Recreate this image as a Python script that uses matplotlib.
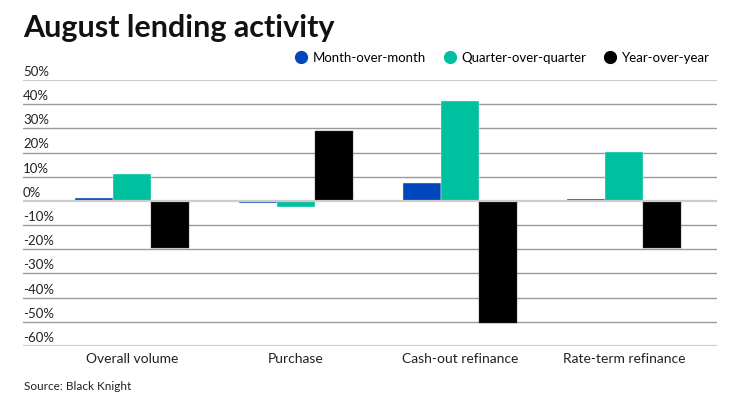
import matplotlib
matplotlib.use("Agg")
import matplotlib.pyplot as plt
import matplotlib.transforms as mtransforms
from matplotlib.lines import Line2D
import numpy as np

categories = ["Overall volume", "Purchase", "Cash-out refinance", "Rate-term refinance"]
series_names = ["Month-over-month", "Quarter-over-quarter", "Year-over-year"]
mom = [1.4, -0.8, 7.6, 0.6]
qoq = [11.0, -2.5, 41.4, 20.2]
yoy = [-19.4, 29.0, -50.5, -19.4]
yticks = [50, 40, 30, 20, 10, 0, -10, -20, -30, -40, -50, -60]
ytick_labels = [f"{t}%" for t in yticks]
colors = ["#0047BB", "#00C19F", "#000000"]

plt.rcParams['font.family'] = ['Lato', 'DejaVu Sans']

W, H = 740, 416
fig = plt.figure(figsize=(W / 100, H / 100), dpi=100)
ax = fig.add_axes([23 / W, 1 - 346 / H, (717 - 23) / W, (346 - 80) / H])

x = np.arange(len(categories))
bw = 0.232
for i, (vals, c) in enumerate(zip([mom, qoq, yoy], colors)):
    ec = "#e8f0ee" if i < 2 else "#444444"
    ax.bar(x + (i - 1) * bw, vals, width=bw, color=c, edgecolor=ec, linewidth=0.3, zorder=3)

ax.set_ylim(-60, 50)
ax.set_xlim(-0.665, 3.567)
for t in yticks:
    if t in (50, 0, -60):
        ax.axhline(t, color="#cccccc", lw=1.6, zorder=1 if t != 0 else 4)
    else:
        ax.axhline(t, color="#9a9a9a", lw=1.0, zorder=1)

trans = mtransforms.blended_transform_factory(ax.transAxes, ax.transData)
offset = mtransforms.ScaledTranslation(0, 1.5 / 72, fig.dpi_scale_trans)
for t, lab in zip(yticks, ytick_labels):
    ax.text(0.0, t, lab, transform=trans + offset, ha="left", va="bottom",
            fontsize=9.5, color="#222222")

ax.set_xticks(x)
ax.set_xticklabels(categories, fontsize=10, color="#222222")
ax.tick_params(axis="x", length=0, pad=5)
ax.set_yticks([])
for s in ax.spines.values():
    s.set_visible(False)

fig.text(23 / W, 1 - 37 / H, "August lending activity", fontsize=22, fontweight="bold",
         ha="left", va="baseline", color="#111111")
fig.text(24 / W, 1 - 390 / H, "Source: Black Knight", fontsize=8.5, ha="left",
         va="baseline", color="#222222")

handles = [Line2D([], [], marker="o", linestyle="", markersize=8.5, color=c) for c in colors]
fig.legend(handles, series_names, loc="center right", bbox_to_anchor=(710 / W, 1 - 58 / H),
           ncol=3, frameon=False, fontsize=9.5, handletextpad=0.4, columnspacing=1.3,
           borderaxespad=0, handlelength=1.0, borderpad=0)

fig.savefig("out.png", dpi=100)
